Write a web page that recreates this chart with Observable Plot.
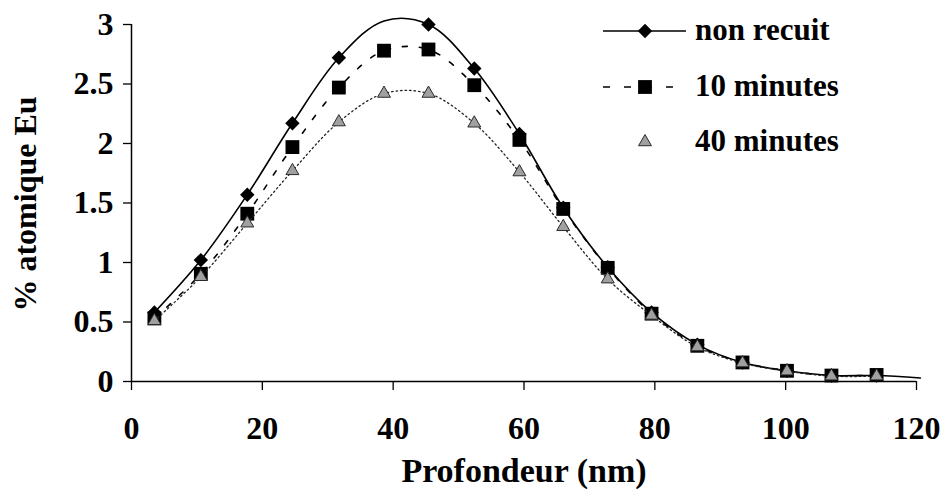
<!DOCTYPE html>
<html>
<head>
<meta charset="utf-8">
<script src="https://cdn.jsdelivr.net/npm/d3@7"></script>
<script src="https://cdn.jsdelivr.net/npm/@observablehq/plot@0.6"></script>
<style>
  html, body { margin: 0; padding: 0; background: #fff; }
  #chart { width: 945px; height: 497px; }
  #chart svg, #chart svg text { font-family: "Liberation Serif", Tinos, "Times New Roman", "Nimbus Roman", "Nimbus Roman No9 L", FreeSerif, "DejaVu Serif", serif !important; font-weight: bold; }
</style>
</head>
<body>
<div id="chart"></div>
<script>
// ---- data ----
const depth = [3.5, 10.6, 17.7, 24.6, 31.7, 38.6, 45.4, 52.4, 59.3, 66.0, 72.8, 79.5, 86.5, 93.4, 100.2, 107.0, 113.9, 120.6];
const nonRecuit = [0.58, 1.02, 1.57, 2.17, 2.72, 3.03, 3.00, 2.63, 2.08, 1.46, 0.96, 0.58, 0.31, 0.16, 0.09, 0.05, 0.05, 0.03];
const nonRecuitMarker = [true, true, true, true, true, false, true, true, true, true, true, true, true, true, true, true, true, false];
const tenMin = [0.53, 0.905, 1.41, 1.97, 2.47, 2.78, 2.79, 2.49, 2.03, 1.45, 0.955, 0.57, 0.30, 0.16, 0.09, 0.05, 0.055];
const fortyMin = [0.51, 0.88, 1.33, 1.77, 2.18, 2.42, 2.42, 2.17, 1.76, 1.30, 0.86, 0.555, 0.29, 0.155, 0.087, 0.045, 0.045];
const seriesNames = ["non recuit", "10 minutes", "40 minutes"];
const xTicks = [0, 20, 40, 60, 80, 100, 120];
const yTicks = [0, 0.5, 1, 1.5, 2, 2.5, 3];
const yTickLabels = ["0", "0.5", "1", "1.5", "2", "2.5", "3"];
const xLabel = "Profondeur (nm)";
const yLabel = "% atomique Eu";

// ---- tables ----
const s1 = nonRecuit.map((v, i) => ({x: depth[i], y: v, m: nonRecuitMarker[i]}));
const s2 = tenMin.map((v, i) => ({x: depth[i], y: v}));
const s3 = fortyMin.map((v, i) => ({x: depth[i], y: v}));

const FONT = "'Liberation Serif', Tinos, 'Times New Roman', 'Nimbus Roman', FreeSerif, 'DejaVu Serif', serif";
const FS = 32;
const R_DIAMOND = 6.5, R_SQUARE = 7.8, R_TRI = 4.8;
const TRI_FILL = "#a0a0a0", TRI_STROKE = "#2a2a2a";

const chart = Plot.plot({
  width: 945,
  height: 497,
  marginLeft: 131,
  marginRight: 29,
  marginTop: 24,
  marginBottom: 116,
  style: {fontFamily: FONT, fontSize: FS + "px", fontWeight: "bold", background: "#fff", color: "#000"},
  x: {domain: [0, 120]},
  y: {domain: [0, 3]},
  marks: [
    Plot.axisY({ticks: yTicks, tickFormat: (d) => yTickLabels[yTicks.indexOf(d)], tickSize: 8, tickPadding: 10, label: null, stroke: "#000", strokeWidth: 1.3, fontSize: FS}),
    Plot.axisX({ticks: xTicks, tickFormat: (d) => String(d), tickSize: 9, tickPadding: 26, label: null, stroke: "#000", strokeWidth: 1.3, fontSize: FS}),
    Plot.ruleX([0], {stroke: "#000", strokeWidth: 1.5}),
    Plot.ruleY([0], {stroke: "#000", strokeWidth: 1.5}),
    Plot.text([xLabel], {frameAnchor: "bottom", dy: 100, text: (d) => d, fontSize: 34, fontWeight: "bold", fill: "#000"}),
    // non recuit
    Plot.line(s1, {x: "x", y: "y", curve: "catmull-rom", stroke: "#000", strokeWidth: 1.6}),
    Plot.dot(s1.filter((d) => d.m), {x: "x", y: "y", symbol: "diamond2", r: R_DIAMOND, fill: "#000", stroke: "none"}),
    // 10 minutes
    Plot.line(s2, {x: "x", y: "y", curve: "catmull-rom", stroke: "#000", strokeWidth: 1.6, strokeDasharray: "5,12"}),
    Plot.dot(s2, {x: "x", y: "y", symbol: "square", r: R_SQUARE, fill: "#000", stroke: "none"}),
    // 40 minutes
    Plot.line(s3, {x: "x", y: "y", curve: "catmull-rom", stroke: "#222", strokeWidth: 1.3, strokeDasharray: "1.5,3"}),
    Plot.dot(s3, {x: "x", y: "y", symbol: "triangle", r: R_TRI, fill: TRI_FILL, stroke: TRI_STROKE, strokeWidth: 1})
  ]
});

document.getElementById("chart").appendChild(chart);

const svg = d3.select(chart);

// ---- y axis title ----
svg.append("text")
  .attr("transform", "translate(25,204) rotate(-90)")
  .attr("text-anchor", "middle")
  .attr("dominant-baseline", "central")
  .attr("font-family", FONT).attr("font-size", FS).attr("font-weight", "bold")
  .attr("fill", "#000")
  .text(yLabel);

// ---- legend (top right, inside the chart) ----
const lg = svg.append("g").attr("font-family", FONT).attr("font-size", 31).attr("font-weight", "bold").attr("text-anchor", "start");
const rows = [31, 87, 142];
const lineX0 = 603, lineX1 = 686, symX = 645, textX = 695;
lg.append("line").attr("x1", lineX0).attr("x2", lineX1).attr("y1", rows[0]).attr("y2", rows[0]).attr("stroke", "#000").attr("stroke-width", 1.6);
lg.append("path").attr("transform", `translate(${symX},${rows[0]})`).attr("d", d3.symbol(d3.symbolDiamond2, R_DIAMOND * R_DIAMOND * Math.PI)()).attr("fill", "#000");
lg.append("line").attr("x1", lineX0).attr("x2", lineX1).attr("y1", rows[1]).attr("y2", rows[1]).attr("stroke", "#000").attr("stroke-width", 1.6).attr("stroke-dasharray", "7,14");
lg.append("path").attr("transform", `translate(${symX},${rows[1]})`).attr("d", d3.symbol(d3.symbolSquare, R_SQUARE * R_SQUARE * Math.PI)()).attr("fill", "#000");
lg.append("path").attr("transform", `translate(${symX},${rows[2]})`).attr("d", d3.symbol(d3.symbolTriangle, R_TRI * R_TRI * Math.PI)()).attr("fill", TRI_FILL).attr("stroke", TRI_STROKE).attr("stroke-width", 1);
seriesNames.forEach((name, i) => {
  lg.append("text").attr("x", textX).attr("y", rows[i] + 9).attr("fill", "#000").text(name);
});
</script>
</body>
</html>
